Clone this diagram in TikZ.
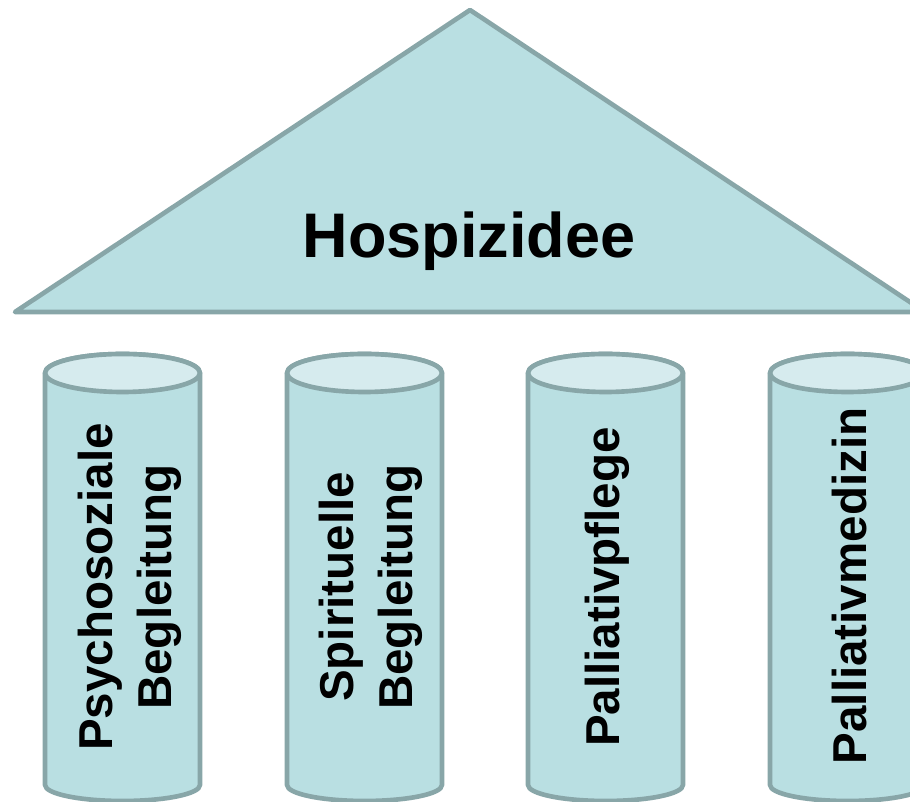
\documentclass[tikz,border=0pt]{standalone}
\usepackage{fontspec}
\setmainfont{Liberation Sans}

\definecolor{pillarfill}{HTML}{B9DFE2}
\definecolor{pillartop}{HTML}{D6EBEE}
\definecolor{pillarline}{HTML}{88A6A8}

\tikzset{
  outline/.style={draw=pillarline, line width=3.3pt, line join=round},
  roof/.style={outline, fill=pillarfill},
  body/.style={outline, fill=pillarfill},
  lid/.style={outline, fill=pillartop},
  label/.style={rotate=90, align=center, inner sep=0pt,
    font=\bfseries\fontsize{33.8}{42}\selectfont}
}

\begin{document}
\begin{tikzpicture}[x=0.025cm, y=0.025cm]

    \useasboundingbox (0, 0) rectangle (910, 802);

    % roof
    \coordinate (l) at (15, 490);
    \coordinate (t) at (470, 792);
    \coordinate (r) at (925, 490);
    \draw [roof] (l) -- (t) -- (r) -- cycle;
    \node (h) at (469, 561) {\bfseries\fontsize{44.8}{50}\selectfont Hospizidee};

    % pillars
    \draw [body] (45, 429) -- (45, 17) arc [start angle=180, end angle=360, x radius=77.5, y radius=16] -- (200, 429) arc [start angle=0, end angle=180, x radius=77.5, y radius=19] -- cycle;
    \draw [lid] (122.5, 429) ellipse [x radius=77.5, y radius=19];
    \draw [body] (287, 429) -- (287, 17) arc [start angle=180, end angle=360, x radius=77.5, y radius=16] -- (442, 429) arc [start angle=0, end angle=180, x radius=77.5, y radius=19] -- cycle;
    \draw [lid] (364.5, 429) ellipse [x radius=77.5, y radius=19];
    \draw [body] (528, 429) -- (528, 17) arc [start angle=180, end angle=360, x radius=77.5, y radius=16] -- (683, 429) arc [start angle=0, end angle=180, x radius=77.5, y radius=19] -- cycle;
    \draw [lid] (605.5, 429) ellipse [x radius=77.5, y radius=19];
    \draw [body] (770, 429) -- (770, 17) arc [start angle=180, end angle=360, x radius=77.5, y radius=16] -- (925, 429) arc [start angle=0, end angle=180, x radius=77.5, y radius=19] -- cycle;
    \draw [lid] (847.5, 429) ellipse [x radius=77.5, y radius=19];

    \node [label] (a) at (129.5, 215) {Psychosoziale\\Begleitung};
    \node [label] (b) at (371, 215) {Spirituelle\\Begleitung};
    \node [label] (c) at (607, 215) {Palliativpflege};
    \node [label] (d) at (850, 216) {Palliativmedizin};

\end{tikzpicture}
\end{document}
